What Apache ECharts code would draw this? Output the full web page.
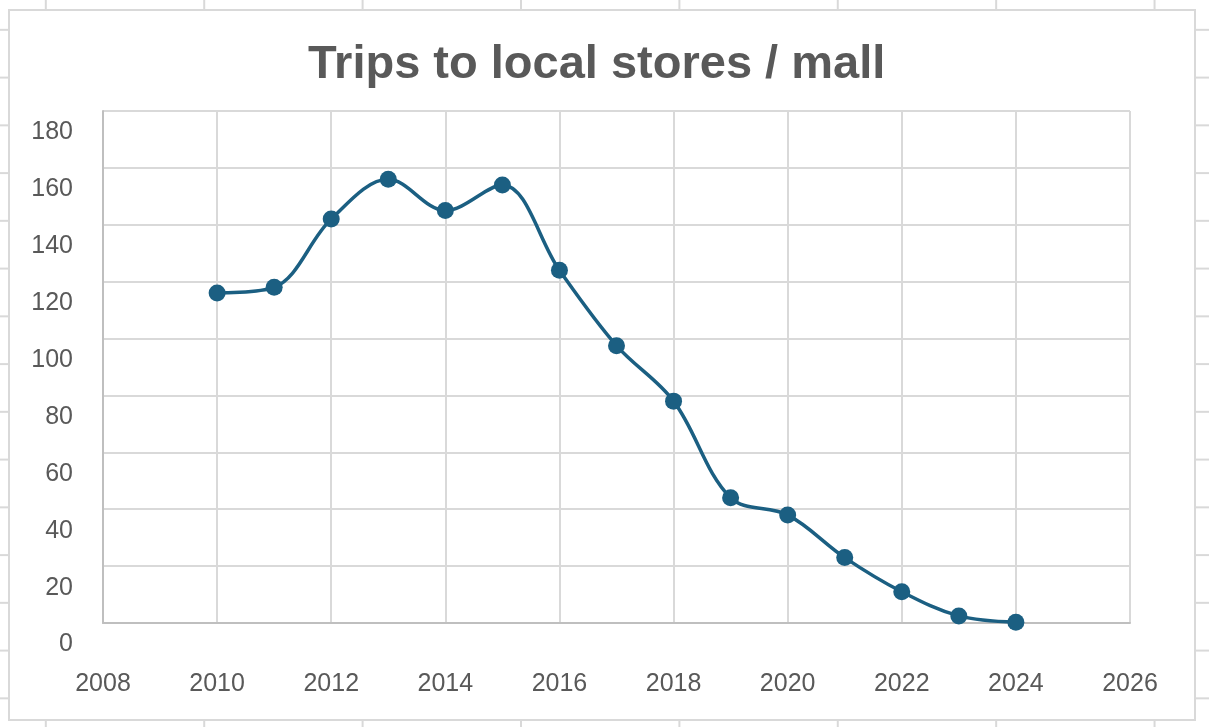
<!DOCTYPE html>
<html>
<head>
<meta charset="utf-8">
<script src="https://cdn.jsdelivr.net/npm/echarts@6/dist/echarts.min.js"></script>
<style>
  html, body { margin: 0; padding: 0; width: 1209px; height: 727px; overflow: hidden; }
  body {
    background-color: #ffffff;
    background-image:
      repeating-linear-gradient(to right, transparent 0px, transparent 45px, #d9d9d9 45px, #d9d9d9 46.5px, transparent 46.5px, transparent 158.4px),
      repeating-linear-gradient(to bottom, transparent 0px, transparent 29px, #d9d9d9 29px, #d9d9d9 30.5px, transparent 30.5px, transparent 47.75px);
    background-size: 158.4px 100%, 100% 47.75px;
  }
  #box { position: absolute; left: 8px; top: 9px; width: 1184px; height: 708px; background: #fff; border: 2px solid #d9d9d9; }
  #chart { position: absolute; left: 0; top: 0; width: 1209px; height: 727px; }
</style>
</head>
<body>
<div id="box"></div>
<div id="chart"></div>
<script>
const titleText = 'Trips to local stores / mall';
const years = [2010, 2011, 2012, 2013, 2014, 2015, 2016, 2017, 2018, 2019, 2020, 2021, 2022, 2023, 2024];
const trips = [116, 118, 142, 156, 145, 154, 124, 97.5, 78, 44, 38, 23, 11, 2.5, 0.3];
const xMin = 2008, xMax = 2026, xStep = 2;
const yMin = 0, yMax = 180, yStep = 20;

const chart = echarts.init(document.getElementById('chart'), null, { renderer: 'canvas' });
const textColor = '#595959';
const fontFam = '"Liberation Sans", Arial, sans-serif';
chart.setOption({
  backgroundColor: 'transparent',
  animation: false,
  title: {
    text: titleText,
    left: 303,
    top: 37,
    textStyle: { fontFamily: fontFam, fontSize: 47, fontWeight: 'bold', color: textColor }
  },
  grid: { left: 103, right: 79, top: 111, bottom: 104 },
  xAxis: {
    type: 'value', min: xMin, max: xMax, interval: xStep,
    axisLine: { show: true, lineStyle: { color: '#bfbfbf', width: 2 } },
    axisTick: { show: false },
    axisLabel: { margin: 49, fontFamily: fontFam, fontSize: 25, color: textColor, formatter: v => String(v) },
    splitLine: { show: true, lineStyle: { color: '#d9d9d9', width: 2 } }
  },
  yAxis: {
    type: 'value', min: yMin, max: yMax, interval: yStep,
    axisLine: { show: true, lineStyle: { color: '#bfbfbf', width: 2 } },
    axisTick: { show: false },
    axisLabel: { margin: 30, fontFamily: fontFam, fontSize: 25, color: textColor, verticalAlign: 'top', padding: [9, 0, 0, 0] },
    splitLine: { show: true, lineStyle: { color: '#d9d9d9', width: 2 } }
  },
  series: [{
    type: 'line',
    data: years.map((y, i) => [y, trips[i]]),
    smooth: 0.35,
    symbol: 'circle',
    symbolSize: 17,
    lineStyle: { color: '#1b5f82', width: 3.5 },
    itemStyle: { color: '#1b5f82' }
  }]
});
</script>
</body>
</html>
